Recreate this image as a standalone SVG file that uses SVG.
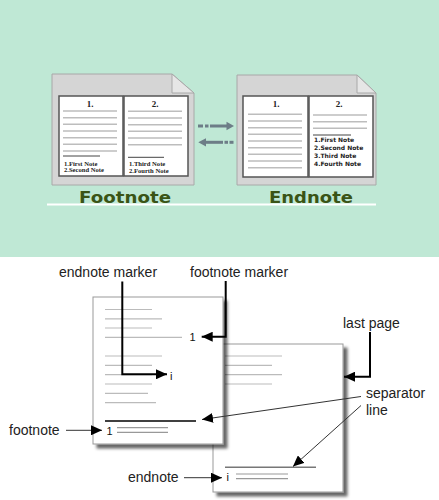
<svg xmlns="http://www.w3.org/2000/svg" width="439" height="500" viewBox="0 0 439 500">
<defs>
<style>
.gpage{fill:#d5d5d5;stroke:#a8a8a8;stroke-width:1}
.flap{fill:#e6e6e6;stroke:#a8a8a8;stroke-width:1}
.wpage{fill:#fff;stroke:#555;stroke-width:1.5}
.tl{stroke:#bdbdbd;stroke-width:1.6}
.tsep{stroke:#444;stroke-width:1}
.num{font-family:"Liberation Serif",serif;font-weight:bold;font-size:9px;fill:#222;text-anchor:middle}
.fn{font-family:"Liberation Serif",serif;font-weight:bold;font-size:6.6px;fill:#222}
.en{font-family:"DejaVu Sans",sans-serif;font-weight:bold;font-size:6px;fill:#222}
.big{font-family:"DejaVu Sans",Verdana,sans-serif;font-weight:bold;font-size:16.5px;fill:#3a5416}
.ta{fill:#6d7d87}
.bpage{fill:#fff;stroke:#999;stroke-width:1}
.bl{stroke:#bbb;stroke-width:1.2}
.lbl{font-family:"Liberation Sans",Arial,sans-serif;font-size:14px;fill:#222}
.mk{font-family:"Liberation Sans",Arial,sans-serif;font-size:11px;fill:#111}
.thick{stroke:#000;stroke-width:2;fill:none}
.thin{stroke:#333;stroke-width:1;fill:none}
</style>
<marker id="ah" markerUnits="userSpaceOnUse" markerWidth="11" markerHeight="10" refX="11" refY="5" orient="auto">
<path d="M0,0 L11,5 L0,10 z" fill="#000"/>
</marker>
<filter id="sh" x="-10%" y="-10%" width="130%" height="130%">
<feDropShadow dx="4" dy="4" stdDeviation="1.8" flood-color="#000" flood-opacity="0.6"/>
</filter>
</defs>

<rect x="0" y="0" width="439" height="257" fill="#bfe8d5"/>
<rect x="0" y="257" width="439" height="243" fill="#fff"/>

<g id="footnote-doc">
<path class="gpage" d="M52,74 L172,74 L194,93 L194,185 L52,185 Z"/>
<path class="flap" d="M172,74 L172,93 L194,93 Z"/>
<rect class="wpage" x="59" y="96" width="64" height="80"/>
<rect class="wpage" x="124" y="96" width="64" height="80"/>
<text class="num" x="90" y="107">1.</text>
<text class="num" x="155" y="107">2.</text>
<g class="tl">
<line x1="63" y1="111" x2="117" y2="111"/>
<line x1="63" y1="117.7" x2="117" y2="117.7"/>
<line x1="63" y1="124.3" x2="117" y2="124.3"/>
<line x1="63" y1="131" x2="117" y2="131"/>
<line x1="63" y1="137.7" x2="117" y2="137.7"/>
<line x1="63" y1="144.3" x2="117" y2="144.3"/>
<line x1="63" y1="151" x2="117" y2="151"/>
<line x1="128" y1="111.3" x2="182" y2="111.3"/>
<line x1="128" y1="118" x2="182" y2="118"/>
<line x1="128" y1="124.7" x2="182" y2="124.7"/>
<line x1="128" y1="131.3" x2="182" y2="131.3"/>
<line x1="128" y1="138" x2="182" y2="138"/>
<line x1="128" y1="144.7" x2="182" y2="144.7"/>
</g>
<line class="tsep" x1="63" y1="156" x2="100" y2="156"/>
<line class="tsep" x1="128" y1="157.3" x2="164" y2="157.3"/>
<text class="fn" x="64" y="165.5">1.First Note</text>
<text class="fn" x="64" y="172">2.Second Note</text>
<text class="fn" x="129" y="165.8">1.Third Note</text>
<text class="fn" x="129" y="172.5">2.Fourth Note</text>
</g>

<g id="endnote-doc">
<path class="gpage" d="M237,75 L357,75 L376,93 L376,185 L237,185 Z"/>
<path class="flap" d="M357,75 L357,93 L376,93 Z"/>
<rect class="wpage" x="243" y="96" width="65" height="81"/>
<rect class="wpage" x="309" y="96" width="64" height="81"/>
<text class="num" x="276" y="107">1.</text>
<text class="num" x="339" y="107">2.</text>
<g class="tl">
<line x1="248" y1="114.3" x2="302" y2="114.3"/>
<line x1="248" y1="121" x2="302" y2="121"/>
<line x1="248" y1="127.7" x2="302" y2="127.7"/>
<line x1="248" y1="134.3" x2="302" y2="134.3"/>
<line x1="248" y1="141" x2="302" y2="141"/>
<line x1="248" y1="147.7" x2="302" y2="147.7"/>
<line x1="248" y1="154.3" x2="302" y2="154.3"/>
<line x1="248" y1="161" x2="302" y2="161"/>
<line x1="248" y1="167.7" x2="302" y2="167.7"/>
<line x1="313" y1="115" x2="367" y2="115"/>
<line x1="313" y1="121.7" x2="367" y2="121.7"/>
<line x1="313" y1="128.3" x2="367" y2="128.3"/>
</g>
<line class="tsep" x1="313" y1="135" x2="351" y2="135"/>
<text class="en" x="314" y="141.6">1.First Note</text>
<text class="en" x="314" y="149.6">2.Second Note</text>
<text class="en" x="314" y="158">3.Third Note</text>
<text class="en" x="314" y="166">4.Fourth Note</text>
</g>

<g id="swap-arrows" class="ta">
<rect x="198" y="124.5" width="5" height="3"/>
<rect x="205" y="124.5" width="3.5" height="3"/>
<rect x="210" y="124.5" width="17" height="3"/>
<polygon points="226.5,121.7 234,126 226.5,130.3"/>
<polygon points="198.3,142.3 206,138.2 206,146.5"/>
<rect x="205.5" y="140.8" width="17.5" height="3"/>
<rect x="224.5" y="140.8" width="3.5" height="3"/>
<rect x="229.5" y="140.8" width="4" height="3"/>
</g>

<g id="titles">
<text class="big" x="79" y="203" textLength="92" lengthAdjust="spacingAndGlyphs">Footnote</text>
<text class="big" x="269" y="203" textLength="84" lengthAdjust="spacingAndGlyphs">Endnote</text>
<line x1="47" y1="204.5" x2="376" y2="204.5" stroke="#fff" stroke-width="2"/>
</g>

<g id="last-page">
<rect class="bpage" x="213" y="344" width="130" height="148" filter="url(#sh)"/>
<g class="bl">
<line x1="225" y1="356" x2="282" y2="356"/>
<line x1="225" y1="365.3" x2="272" y2="365.3"/>
<line x1="225" y1="374.7" x2="282" y2="374.7"/>
<line x1="225" y1="384" x2="272" y2="384"/>
</g>
<line x1="225" y1="467.3" x2="316" y2="467.3" stroke="#777" stroke-width="1.5"/>
<text class="mk" x="226.5" y="480.5">i</text>
<line x1="236" y1="474" x2="288" y2="474" stroke="#999" stroke-width="1.2"/>
<line x1="236" y1="478.7" x2="288" y2="478.7" stroke="#999" stroke-width="1.2"/>
</g>

<g id="first-page">
<rect class="bpage" x="93" y="297" width="130" height="147" filter="url(#sh)"/>
<g class="bl">
<line x1="105" y1="309.5" x2="152" y2="309.5"/>
<line x1="105" y1="318.8" x2="162" y2="318.8"/>
<line x1="105" y1="328" x2="152" y2="328"/>
<line x1="105" y1="337.4" x2="182" y2="337.4"/>
<line x1="105" y1="356" x2="162" y2="356"/>
<line x1="105" y1="365.3" x2="152" y2="365.3"/>
<line x1="105" y1="374.7" x2="152" y2="374.7"/>
<line x1="105" y1="384" x2="152" y2="384"/>
<line x1="105" y1="393.3" x2="148" y2="393.3"/>
<line x1="105" y1="402.7" x2="156" y2="402.7"/>
</g>
<text class="mk" x="189.5" y="341">1</text>
<text class="mk" x="170" y="379.5">i</text>
<line x1="105" y1="421" x2="196" y2="421" stroke="#000" stroke-width="1.3"/>
<text class="mk" x="106.5" y="434.5">1</text>
<line x1="117" y1="427.7" x2="168" y2="427.7" stroke="#999" stroke-width="1.2"/>
<line x1="117" y1="432.3" x2="168" y2="432.3" stroke="#999" stroke-width="1.2"/>
</g>

<g id="labels">
<text class="lbl" x="59" y="277">endnote marker</text>
<text class="lbl" x="190" y="277">footnote marker</text>
<text class="lbl" x="343" y="327.5">last page</text>
<text class="lbl" x="366" y="398">separator</text>
<text class="lbl" x="366" y="414.5">line</text>
<text class="lbl" x="9" y="434.5">footnote</text>
<text class="lbl" x="128" y="482">endnote</text>
</g>

<g id="connectors">
<path class="thick" d="M122.3,281.5 L122.3,374.3 L167,374.3" marker-end="url(#ah)"/>
<path class="thick" d="M225.7,281 L225.7,336.7 L201.7,336.7" marker-end="url(#ah)"/>
<path class="thick" d="M370,332 L370,376.7 L344,376.7" marker-end="url(#ah)"/>
<path class="thin" d="M361,396.5 L202,419.5" marker-end="url(#ah)"/>
<path class="thin" d="M361,405.5 L293,466.5" marker-end="url(#ah)"/>
<path class="thin" d="M66,430.3 L102,430.3" marker-end="url(#ah)"/>
<path class="thin" d="M184,477.7 L222,477.7" marker-end="url(#ah)"/>
</g>
</svg>
